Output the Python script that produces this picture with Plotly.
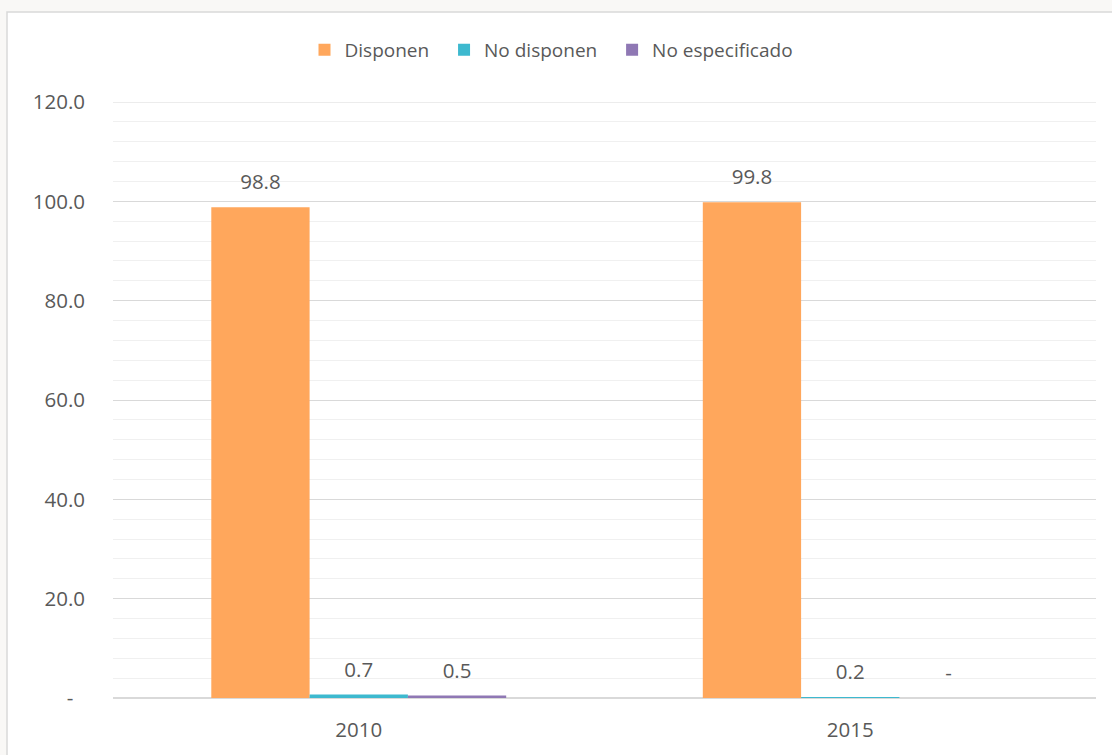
import plotly.graph_objects as go

# Source values (%)
years = ["2010", "2015"]
disponen = [98.8, 99.8]
no_disponen = [0.7, 0.2]
no_especificado = [0.5, 0.0]

series_names = ["Disponen", "No disponen", "No especificado"]
series_values = [disponen, no_disponen, no_especificado]
series_colors = ["#FFA75C", "#3DB9CF", "#8F78B4"]

y_ticks = [0, 20, 40, 60, 80, 100, 120]
y_ticktext = ["-\u2007"] + [f"{v:.1f}" for v in y_ticks[1:]]
Y_MAX = 120

FONT = "Open Sans"
TXT = "#595959"
NUM_SIZE = 20.5
GRID = "#D9D9D9"
GAP = 0.4


def fmt(v):
    return f"{v:.1f}" if v else "-"


fig = go.Figure()

for name, vals, col in zip(series_names, series_values, series_colors):
    fig.add_trace(go.Bar(
        x=years, y=vals, name=name + "\u00a0\u00a0",
        marker=dict(color=col, line=dict(width=0)),
        hoverinfo="skip",
    ))

# data labels, grouped the same way as the bars
for name, vals in zip(series_names, series_values):
    fig.add_trace(go.Scatter(
        x=years, y=vals, mode="markers+text",
        text=[fmt(v) for v in vals],
        textposition="top center",
        textfont=dict(family=FONT, size=NUM_SIZE, color=TXT),
        marker=dict(size=19, color="rgba(0,0,0,0)"),
        orientation="v",
        showlegend=False, hoverinfo="skip", cliponaxis=False,
    ))

# chart frame
fig.add_shape(type="rect", xref="paper", yref="paper",
              x0=(7 - 113) / 983, x1=1.05, y0=-0.2, y1=(698 - 12) / 596,
              line=dict(color=GRID, width=1.5), fillcolor="white",
              layer="below")
# gridline at the top edge of the value range
fig.add_shape(type="line", xref="paper", yref="y", x0=0, x1=1,
              y0=Y_MAX, y1=Y_MAX, line=dict(color=GRID, width=1),
              layer="below")

fig.update_layout(
    width=1112, height=755,
    margin=dict(l=113, r=16, t=102, b=57),
    paper_bgcolor="#F9F8F6",
    plot_bgcolor="rgba(0,0,0,0)",
    barmode="group", bargap=GAP, bargroupgap=0,
    scattermode="group", scattergap=GAP,
    font=dict(family=FONT, size=19, color=TXT),
    legend=dict(orientation="h", xref="container", x=0.5, xanchor="center",
                yref="container", y=1 - 50 / 755, yanchor="middle",
                bgcolor="rgba(0,0,0,0)",
                font=dict(family=FONT, size=19, color=TXT),
                itemwidth=30, traceorder="normal"),
    xaxis=dict(type="category", showgrid=False, showline=False, zeroline=False,
               ticks="", ticklabelstandoff=17,
               tickfont=dict(family=FONT, size=NUM_SIZE, color=TXT)),
    yaxis=dict(range=[0, Y_MAX], tickvals=y_ticks, ticktext=y_ticktext,
               showgrid=True, gridcolor=GRID, gridwidth=1,
               zeroline=True, zerolinecolor=GRID, zerolinewidth=2,
               minor=dict(dtick=4, showgrid=True, gridcolor="#F0F0F0", gridwidth=1),
               showline=False, ticks="", ticklabelstandoff=27,
               tickfont=dict(family=FONT, size=NUM_SIZE, color=TXT)),
)

fig.write_html("out.html")
